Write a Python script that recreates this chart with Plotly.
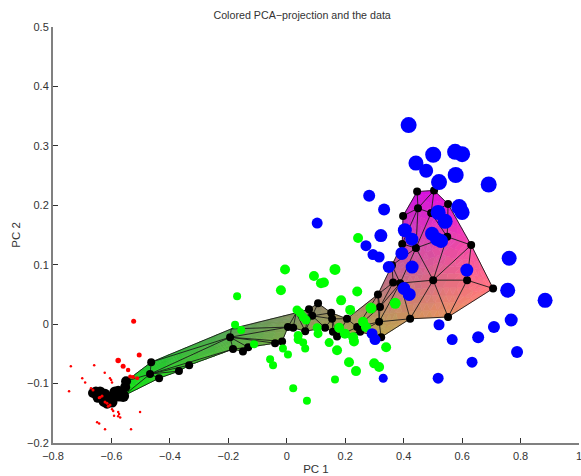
import plotly.graph_objects as go

title = "Colored PCA\u2212projection and the data"
x_ticks = [-0.8, -0.6, -0.4, -0.2, 0, 0.2, 0.4, 0.6, 0.8, 1]
y_ticks = [-0.2, -0.1, 0, 0.1, 0.2, 0.3, 0.4, 0.5]

blue_x = [.417,.501,.576,.600,.442,.477,.578,.521,.691,.282,.333,.590,.600,.518,.542,.404,.428,.322,.271,.295,.316,.394,.497,.514,.528,.429,.349,.616,.761,.756,.401,.419,.884,.768,.709,.788,.634,.518,.566,.655,.521,.292,.302,.330,.104]
blue_y = [.335,.285,.290,.286,.271,.258,.251,.239,.235,.216,.193,.197,.188,.188,.173,.158,.143,.149,.132,.117,.113,.119,.152,.143,.140,.096,.096,.091,.111,.057,.060,.050,.040,.007,-.005,-.047,-.064,-.091,-.026,-.022,-.001,-.016,-.026,-.091,.170]
blue_s = [16,16,16,16,15,14,16,16,16,12,12,16,15,15,15,14,13,13,11,11,11,13,14,14,14,13,12,13,15,15,13,13,15,13,12,12,11,11,11,12,11,11,11,9,11]

green_x = [-.006,.093,.165,.117,.127,-.020,-.170,.241,.186,.217,.288,.371,.035,.046,.056,.066,-.177,-.156,.261,.271,.104,.107,.179,.199,.227,.230,.039,.039,.056,.063,-.013,.004,-.112,.145,.172,.340,-.057,-.047,.213,.237,.299,.316,.165,.022,.069,.244]
green_y = [.092,.081,.092,.069,.070,.057,.047,.055,.040,.024,.027,.035,.024,.019,.012,.007,-.001,-.010,.004,-.005,-.006,-.016,-.006,-.016,-.022,-.029,-.019,-.026,-.031,-.041,-.041,-.051,-.034,-.031,-.044,-.039,-.059,-.069,-.064,-.079,-.066,-.072,-.093,-.108,-.129,.145]
green_s = [10,10,11,10,10,10,8,10,10,10,11,11,9,9,9,9,8,8,10,10,9,9,10,10,10,10,9,9,8,8,8,8,8,9,10,10,8,8,10,10,10,10,8,8,8,10]

red_x = [-.524,-.505,-.577,-.560,-.543,-.536,-.526,-.512,-.739,-.659,-.623,-.700,-.690,-.605,-.601,-.598,-.745,-.670,-.663,-.639,-.632,-.642,-.622,-.615,-.611,-.605,-.598,-.594,-.577,-.591,-.574,-.570,-.577,-.502,-.649,-.642,-.622,-.533]
red_y = [.005,-.052,-.061,-.071,-.077,-.088,-.089,-.091,-.071,-.069,-.082,-.091,-.098,-.091,-.094,-.098,-.113,-.108,-.111,-.123,-.121,-.124,-.131,-.133,-.138,-.136,-.143,-.146,-.148,-.154,-.151,-.157,-.155,-.148,-.165,-.167,-.177,-.177]
red_s = [5,5,5.5,5,4.5,4,4,4,2.5,2.5,2.5,2.5,2.5,2.5,2.5,2.5,2.5,2.5,3,3,3,3,3,3,3,3,2.5,2.5,2.5,2.5,2.5,2.5,2.5,2.5,2.5,2.5,2.5,2.5]

node_x = [.446,.504,.449,.552,.398,.494,.549,.631,.395,.442,.360,.364,.388,.501,.617,.706,.312,.319,.316,.422,.552,.323,.251,.241,.206,.158,.172,.131,.155,.152,.107,.076,.087,.063,.022,.004,-.016,-.040,-.132,-.150,-.184,-.194,-.334,-.369,-.437,-.468,-.464,-.550,-.553,-.560,-.574,-.594,-.622,-.639,-.663,-.605,-.632,-.615,-.649]
node_y = [.223,.225,.195,.202,.182,.187,.147,.133,.135,.128,.099,.070,.069,.074,.074,.060,.050,.029,.004,.009,.012,-.022,-.013,-.005,.009,-.013,-.021,-.006,.009,.019,.035,.025,.014,-.012,-.006,-.005,-.029,-.032,-.039,-.046,-.042,-.022,-.069,-.079,-.091,-.084,-.064,-.096,-.106,-.121,-.121,-.123,-.118,-.114,-.116,-.124,-.124,-.133,-.118]
node_s = [8]*47 + [10,10,12,11,11,11,11,10,11,11,11,11]
hidden_x = [-.190, .032]
hidden_y = [-.008, .019]
tail_x = [-.646,-.588,-.625,-.653,-.598,-.577]
tail_y = [-.123,-.114,-.130,-.114,-.131,-.113]

triangles = [
    (0,1,2),(1,2,5),(1,3,5),(0,2,4),(2,4,8),(2,8,9),(2,5,9),(5,6,9),(3,5,6),(3,6,7),
    (6,7,13),(6,9,13),(7,13,14),(7,14,15),(13,14,20),(14,15,20),(8,9,10),(9,10,12),
    (10,11,12),(9,12,13),(12,13,19),(13,19,20),(10,11,16),(11,16,17),(11,12,17),(12,17,18),
    (12,18,19),(18,19,21),(16,17,18),(17,18,23),(16,17,23),(18,22,23),(18,21,22),(24,23,16),
    (30,29,32),(29,28,32),(29,24,28),(30,31,32),(28,27,32),(24,23,26),(24,28,26),(28,26,25),
    (28,25,27),(23,22,26),(32,27,33),(31,32,33),(60,31,33),(60,33,34),(60,34,35),(59,60,35),
    (59,35,41),(41,35,36),(41,36,37),(41,37,38),(41,38,40),(38,39,40),
    (46,59,41),(46,41,45),(45,41,40),(45,40,42),(45,42,43),(45,43,44),
    (47,46,45),(49,47,45),(49,45,44),(48,47,49),
]
tail_chain = [47,48,49,50,51,55,57,56,52,58,53,54]

vx = node_x + hidden_x
vy = node_y + hidden_y


def vertex_rgb(i):
    return (125 + 190 * vx[i], 155 - 620 * vy[i], 90 + 596 * vy[i])


groups = {}
N = 5
for a, b, c in triangles:
    pa, pb, pc = [(vx[k], vy[k], *vertex_rgb(k)) for k in (a, b, c)]

    def at(i, j):
        k = N - i - j
        return tuple((i * pa[m] + j * pb[m] + k * pc[m]) / N for m in range(5))

    for i in range(N):
        for j in range(N - i):
            cells = [(at(i, j), at(i + 1, j), at(i, j + 1))]
            if i + j < N - 1:
                cells.append((at(i + 1, j), at(i, j + 1), at(i + 1, j + 1)))
            for cell in cells:
                col = [sum(p[m] for p in cell) / 3 for m in (2, 3, 4)]
                key = tuple(min(255, max(0, int(round(v / 8) * 8))) for v in col)
                g = groups.setdefault(key, ([], []))
                g[0].extend([p[0] for p in cell] + [cell[0][0], None])
                g[1].extend([p[1] for p in cell] + [cell[0][1], None])

fig = go.Figure()
for key, (xs, ys) in groups.items():
    col = f"rgb({key[0]},{key[1]},{key[2]})"
    fig.add_trace(go.Scatter(x=xs, y=ys, mode="lines", fill="toself", fillcolor=col,
                             line=dict(color=col, width=0.6), hoverinfo="skip"))

edges = set()
for a, b, c in triangles:
    for u, v in ((a, b), (b, c), (a, c)):
        edges.add((min(u, v), max(u, v)))
ex, ey = [], []
for u, v in sorted(edges):
    ex += [vx[u], vx[v], None]
    ey += [vy[u], vy[v], None]
for u, v in zip(tail_chain, tail_chain[1:]):
    ex += [vx[u], vx[v], None]
    ey += [vy[u], vy[v], None]
fig.add_trace(go.Scatter(x=ex, y=ey, mode="lines", line=dict(color="#1a1a1a", width=0.9), hoverinfo="skip"))

fig.add_trace(go.Scatter(x=node_x + tail_x, y=node_y + tail_y, mode="markers",
                         marker=dict(color="black", size=node_s + [11] * len(tail_x), opacity=1, line=dict(width=0))))
fig.add_trace(go.Scatter(x=red_x, y=red_y, mode="markers",
                         marker=dict(color="#ff0000", size=red_s, opacity=1, line=dict(width=0))))
fig.add_trace(go.Scatter(x=green_x, y=green_y, mode="markers",
                         marker=dict(color="#00ff00", size=green_s, opacity=1, line=dict(width=0))))
fig.add_trace(go.Scatter(x=blue_x, y=blue_y, mode="markers",
                         marker=dict(color="#0000ff", size=blue_s, opacity=1, line=dict(width=0))))

axis_common = dict(showgrid=False, zeroline=False, showline=True, linecolor="#808080", linewidth=2,
                   ticks="inside", ticklen=5, tickwidth=1, tickcolor="#303030",
                   tickfont=dict(size=11, color="#333333"), ticklabeloverflow="allow")
fig.update_layout(
    width=581, height=476, autosize=False,
    margin=dict(l=53, r=2, t=27, b=33),
    paper_bgcolor="white", plot_bgcolor="white", showlegend=False,
    font=dict(family="Liberation Sans", size=11, color="#333333"),
    title=dict(text=title, x=0.52, xanchor="center", y=0.968, yanchor="middle",
               font=dict(size=10.7, color="#333333")),
    xaxis=dict(range=[-0.8, 1], tickmode="array", tickvals=x_ticks, ticktext=[("\u2212" if t < 0 else "") + f"{abs(t):g}" for t in x_ticks],
               ticklabelstandoff=2, automargin=False,
               title=dict(text="PC 1", standoff=4, font=dict(size=11.5)), **axis_common),
    yaxis=dict(range=[-0.2, 0.5], tickmode="array", tickvals=y_ticks, ticktext=[("\u2212" if t < 0 else "") + f"{abs(t):g}" for t in y_ticks],
               title=dict(text="PC 2", standoff=4, font=dict(size=11.5)), **axis_common),
)
fig.write_html("out.html", config={"displayModeBar": False}, post_script="document.body.style.margin='0';")
